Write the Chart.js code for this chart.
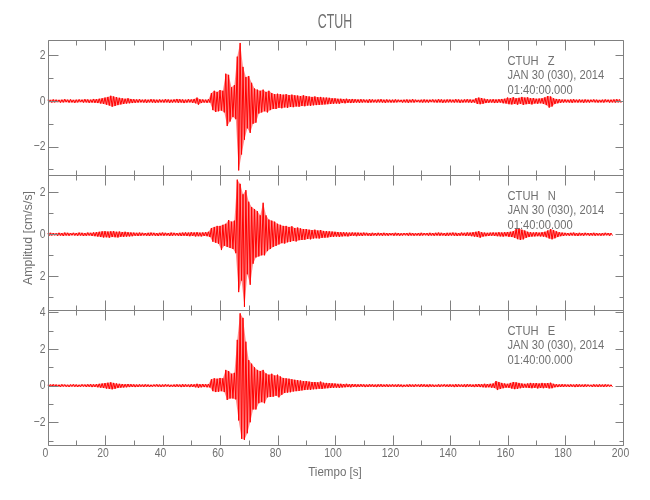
<!DOCTYPE html>
<html>
<head>
<meta charset="utf-8">
<script src="https://cdn.jsdelivr.net/npm/chart.js@4.4.0/dist/chart.umd.min.js"></script>
<style>
  html, body { margin: 0; padding: 0; background: #fff; }
  #wrap { width: 650px; height: 500px; position: relative; }
</style>
</head>
<body>
<div id="wrap"><canvas id="seis"></canvas></div>
<script>
// envelope, one pair per second: upper peak then lower peak
var zHi = [
  0.06,0.05,0.07,0.06,0.05,0.06,0.08,0.06,0.07,0.05,0.06,0.07,0.06,0.08,0.07,0.06,0.09,0.08,0.10,0.12,
  0.15,0.18,0.23,0.20,0.17,0.14,0.12,0.10,0.12,0.09,0.08,0.07,0.08,0.06,0.07,0.06,0.08,0.07,0.06,0.07,
  0.06,0.08,0.07,0.06,0.07,0.09,0.08,0.07,0.06,0.08,0.07,0.09,0.15,0.08,0.07,0.06,0.08,0.35,0.45,0.40,
  0.48,0.45,1.20,1.15,0.60,0.70,1.95,2.55,1.50,1.05,1.10,0.80,0.55,0.50,0.45,0.50,0.40,0.45,0.35,0.30,
  0.32,0.30,0.28,0.30,0.26,0.28,0.25,0.24,0.22,0.25,0.22,0.20,0.18,0.20,0.17,0.18,0.15,0.15,0.14,0.12,
  0.12,0.10,0.10,0.09,0.10,0.08,0.09,0.08,0.07,0.08,0.07,0.06,0.08,0.07,0.06,0.07,0.08,0.06,0.07,0.06,
  0.06,0.07,0.06,0.05,0.06,0.07,0.06,0.08,0.06,0.05,0.06,0.07,0.06,0.06,0.07,0.06,0.08,0.07,0.06,0.07,
  0.07,0.06,0.08,0.07,0.06,0.07,0.08,0.07,0.06,0.12,0.15,0.13,0.10,0.08,0.07,0.08,0.07,0.08,0.09,0.10,
  0.15,0.13,0.17,0.12,0.14,0.18,0.15,0.16,0.12,0.13,0.10,0.11,0.12,0.16,0.22,0.20,0.12,0.09,0.08,0.07,
  0.07,0.06,0.07,0.08,0.06,0.07,0.06,0.07,0.06,0.06,0.07,0.06,0.05,0.06,0.07,0.06,0.06,0.07,0.08,0.07
];
var zLo = [
  -0.05,-0.07,-0.06,-0.05,-0.07,-0.06,-0.05,-0.07,-0.06,-0.08,-0.06,-0.05,-0.07,-0.06,-0.08,-0.07,-0.08,-0.09,-0.11,-0.13,
  -0.16,-0.20,-0.25,-0.22,-0.18,-0.15,-0.13,-0.11,-0.10,-0.09,-0.08,-0.07,-0.06,-0.07,-0.08,-0.06,-0.07,-0.08,-0.07,-0.06,
  -0.07,-0.06,-0.08,-0.07,-0.06,-0.08,-0.07,-0.09,-0.07,-0.06,-0.08,-0.10,-0.16,-0.09,-0.07,-0.08,-0.07,-0.40,-0.48,-0.45,
  -0.42,-0.50,-1.10,-0.90,-0.70,-0.80,-3.05,-2.35,-1.70,-1.20,-1.40,-1.00,-0.95,-0.55,-0.50,-0.45,-0.50,-0.40,-0.35,-0.35,
  -0.30,-0.32,-0.28,-0.30,-0.26,-0.27,-0.24,-0.25,-0.22,-0.23,-0.20,-0.21,-0.19,-0.18,-0.17,-0.16,-0.15,-0.14,-0.13,-0.12,
  -0.11,-0.12,-0.09,-0.10,-0.08,-0.09,-0.08,-0.07,-0.08,-0.07,-0.06,-0.08,-0.07,-0.06,-0.07,-0.06,-0.07,-0.08,-0.06,-0.07,
  -0.07,-0.06,-0.05,-0.07,-0.06,-0.08,-0.06,-0.07,-0.05,-0.06,-0.07,-0.06,-0.07,-0.05,-0.06,-0.07,-0.06,-0.08,-0.07,-0.06,
  -0.06,-0.07,-0.06,-0.08,-0.07,-0.06,-0.07,-0.08,-0.07,-0.13,-0.14,-0.12,-0.09,-0.08,-0.07,-0.09,-0.08,-0.07,-0.10,-0.11,
  -0.14,-0.15,-0.13,-0.16,-0.12,-0.17,-0.14,-0.13,-0.15,-0.11,-0.12,-0.10,-0.13,-0.18,-0.29,-0.24,-0.13,-0.10,-0.08,-0.07,
  -0.06,-0.07,-0.08,-0.06,-0.07,-0.06,-0.08,-0.06,-0.07,-0.05,-0.06,-0.07,-0.06,-0.07,-0.05,-0.07,-0.06,-0.07,-0.06,-0.08
];
var nHi = [
  0.06,0.07,0.06,0.05,0.07,0.06,0.08,0.07,0.06,0.07,0.06,0.08,0.07,0.06,0.08,0.07,0.09,0.10,0.12,0.14,
  0.15,0.13,0.14,0.15,0.12,0.13,0.11,0.12,0.10,0.09,0.08,0.07,0.08,0.07,0.06,0.07,0.08,0.07,0.06,0.07,
  0.08,0.07,0.06,0.08,0.07,0.06,0.07,0.08,0.09,0.08,0.10,0.09,0.10,0.08,0.09,0.10,0.12,0.30,0.35,0.40,
  0.40,0.45,0.50,0.68,0.60,0.65,2.60,2.40,1.90,2.10,1.55,1.30,1.20,1.10,0.90,1.50,0.90,0.70,0.65,0.60,
  0.50,0.45,0.40,0.40,0.35,0.38,0.30,0.32,0.28,0.25,0.25,0.22,0.20,0.22,0.18,0.20,0.16,0.15,0.14,0.13,
  0.12,0.11,0.10,0.10,0.09,0.08,0.09,0.08,0.08,0.07,0.08,0.07,0.06,0.07,0.06,0.07,0.06,0.07,0.06,0.06,
  0.06,0.07,0.06,0.05,0.06,0.06,0.07,0.06,0.05,0.06,0.07,0.06,0.06,0.07,0.06,0.07,0.08,0.07,0.06,0.07,
  0.07,0.08,0.07,0.06,0.08,0.07,0.09,0.08,0.10,0.12,0.15,0.10,0.08,0.07,0.08,0.09,0.08,0.10,0.09,0.10,
  0.11,0.12,0.15,0.25,0.29,0.22,0.18,0.12,0.10,0.09,0.10,0.08,0.10,0.12,0.18,0.25,0.20,0.14,0.10,0.08,
  0.07,0.06,0.07,0.08,0.06,0.07,0.06,0.07,0.06,0.06,0.07,0.06,0.05,0.06,0.07,0.06,0.06
];
var nLo = [
  -0.07,-0.06,-0.05,-0.07,-0.06,-0.08,-0.06,-0.07,-0.05,-0.06,-0.07,-0.06,-0.08,-0.07,-0.06,-0.08,-0.09,-0.11,-0.13,-0.15,
  -0.14,-0.16,-0.13,-0.14,-0.15,-0.12,-0.12,-0.11,-0.10,-0.09,-0.07,-0.08,-0.07,-0.06,-0.07,-0.08,-0.06,-0.07,-0.08,-0.06,
  -0.07,-0.06,-0.08,-0.07,-0.06,-0.07,-0.08,-0.07,-0.08,-0.09,-0.08,-0.10,-0.09,-0.10,-0.08,-0.09,-0.13,-0.35,-0.40,-0.45,
  -0.75,-0.55,-0.60,-0.65,-0.70,-0.90,-2.75,-2.20,-3.45,-1.90,-2.40,-1.40,-1.10,-1.05,-1.00,-1.00,-0.80,-0.70,-0.60,-0.55,
  -0.48,-0.42,-0.44,-0.38,-0.36,-0.32,-0.34,-0.28,-0.27,-0.26,-0.22,-0.24,-0.20,-0.19,-0.20,-0.17,-0.16,-0.15,-0.13,-0.12,
  -0.11,-0.12,-0.10,-0.09,-0.10,-0.08,-0.07,-0.09,-0.07,-0.08,-0.06,-0.07,-0.08,-0.06,-0.07,-0.06,-0.07,-0.06,-0.07,-0.05,
  -0.07,-0.06,-0.07,-0.06,-0.05,-0.07,-0.06,-0.07,-0.06,-0.07,-0.06,-0.05,-0.07,-0.06,-0.07,-0.06,-0.07,-0.06,-0.08,-0.07,
  -0.06,-0.07,-0.08,-0.07,-0.06,-0.08,-0.07,-0.09,-0.11,-0.13,-0.16,-0.11,-0.09,-0.08,-0.07,-0.08,-0.09,-0.10,-0.11,-0.09,
  -0.12,-0.13,-0.17,-0.23,-0.27,-0.24,-0.17,-0.13,-0.11,-0.10,-0.09,-0.10,-0.11,-0.14,-0.20,-0.24,-0.19,-0.13,-0.09,-0.08,
  -0.06,-0.07,-0.06,-0.07,-0.08,-0.06,-0.07,-0.05,-0.07,-0.06,-0.07,-0.06,-0.07,-0.06,-0.05,-0.07,-0.06
];
var eHi = [
  0.05,0.06,0.07,0.06,0.05,0.07,0.06,0.05,0.06,0.07,0.06,0.05,0.07,0.06,0.07,0.08,0.07,0.08,0.10,0.12,
  0.14,0.16,0.18,0.15,0.12,0.10,0.09,0.08,0.09,0.08,0.07,0.06,0.07,0.06,0.07,0.06,0.05,0.06,0.07,0.06,
  0.06,0.07,0.06,0.05,0.06,0.07,0.06,0.08,0.07,0.06,0.08,0.07,0.10,0.08,0.09,0.08,0.09,0.35,0.40,0.38,
  0.42,0.40,0.86,0.80,0.65,0.70,2.50,3.95,3.70,2.40,1.40,1.20,1.00,0.86,0.80,0.86,0.67,0.60,0.65,0.55,
  0.60,0.50,0.42,0.40,0.38,0.35,0.32,0.30,0.28,0.25,0.25,0.22,0.20,0.20,0.18,0.22,0.16,0.15,0.14,0.13,
  0.12,0.10,0.10,0.09,0.10,0.08,0.09,0.08,0.07,0.08,0.07,0.06,0.08,0.07,0.06,0.07,0.08,0.06,0.07,0.06,
  0.07,0.06,0.07,0.06,0.05,0.06,0.07,0.06,0.07,0.06,0.08,0.07,0.06,0.07,0.06,0.05,0.07,0.06,0.07,0.06,
  0.07,0.06,0.08,0.07,0.06,0.07,0.08,0.07,0.06,0.08,0.09,0.08,0.10,0.09,0.10,0.12,0.25,0.20,0.15,0.12,
  0.10,0.15,0.20,0.18,0.15,0.12,0.10,0.12,0.15,0.13,0.14,0.12,0.15,0.13,0.14,0.16,0.10,0.08,0.07,0.08,
  0.07,0.06,0.07,0.06,0.08,0.07,0.06,0.07,0.06,0.05,0.07,0.06,0.07,0.06,0.07,0.06,0.05
];
var eLo = [
  -0.06,-0.05,-0.07,-0.06,-0.07,-0.05,-0.06,-0.07,-0.05,-0.06,-0.07,-0.06,-0.05,-0.07,-0.06,-0.08,-0.07,-0.09,-0.11,-0.13,
  -0.16,-0.18,-0.20,-0.17,-0.13,-0.11,-0.10,-0.09,-0.08,-0.07,-0.08,-0.07,-0.06,-0.07,-0.06,-0.07,-0.06,-0.05,-0.06,-0.07,
  -0.06,-0.05,-0.07,-0.06,-0.07,-0.06,-0.08,-0.07,-0.06,-0.08,-0.07,-0.09,-0.11,-0.09,-0.08,-0.09,-0.10,-0.30,-0.35,-0.33,
  -0.30,-0.35,-0.78,-0.70,-0.70,-0.75,-1.90,-2.90,-2.96,-2.60,-2.00,-1.30,-1.30,-0.96,-0.90,-0.96,-0.64,-0.62,-0.60,-0.55,
  -0.64,-0.50,-0.40,-0.38,-0.36,-0.32,-0.30,-0.29,-0.26,-0.24,-0.22,-0.23,-0.20,-0.19,-0.17,-0.18,-0.15,-0.14,-0.13,-0.12,
  -0.11,-0.12,-0.10,-0.09,-0.08,-0.09,-0.07,-0.08,-0.07,-0.06,-0.08,-0.07,-0.06,-0.07,-0.08,-0.06,-0.07,-0.06,-0.07,-0.06,
  -0.06,-0.07,-0.06,-0.08,-0.06,-0.07,-0.06,-0.07,-0.05,-0.07,-0.06,-0.07,-0.08,-0.06,-0.07,-0.06,-0.07,-0.05,-0.06,-0.07,
  -0.06,-0.08,-0.07,-0.06,-0.07,-0.08,-0.06,-0.07,-0.08,-0.07,-0.08,-0.09,-0.10,-0.09,-0.11,-0.13,-0.24,-0.18,-0.14,-0.11,
  -0.12,-0.16,-0.19,-0.17,-0.14,-0.12,-0.11,-0.13,-0.14,-0.12,-0.15,-0.13,-0.14,-0.12,-0.15,-0.14,-0.09,-0.08,-0.07,-0.07,
  -0.06,-0.07,-0.06,-0.08,-0.07,-0.06,-0.07,-0.06,-0.05,-0.07,-0.06,-0.07,-0.06,-0.07,-0.06,-0.05,-0.07
];

var components = ['Z', 'N', 'E'];
var yMin = [-3.25, -3.6, -3.24];
var yMax = [2.68, 2.82, 4.13];
var xTicks = [0, 20, 40, 60, 80, 100, 120, 140, 160, 180, 200];
var station = 'CTUH';
var dateText = 'JAN 30 (030), 2014';
var timeText = '01:40:00.000';
var xTitle = 'Tiempo [s]';
var yTitle = 'Amplitud [cm/s/s]';

var fontFam = "'Liberation Sans', Arial, sans-serif";
var textColor = '#707070';
var lineColor = '#808080';
var traceColor = '#ff0000';
var bandColor = 'rgba(255, 0, 0, 0.45)';

function trace(hi, lo) {
  var pts = [];
  for (var i = 0; i < hi.length; i++) {
    pts.push({ x: i, y: hi[i] });
    pts.push({ x: i + 0.5, y: lo[i] });
  }
  return pts;
}
function edge(vals, shift) {
  return vals.map(function (v, i) { return { x: i + shift, y: v }; });
}

var axisIds = ['yZ', 'yN', 'yE'];
var his = [zHi, nHi, eHi];
var los = [zLo, nLo, eLo];

// narrow text, the original uses a thin condensed plotter font
function say(ctx, txt, x, y, size, align, squeeze) {
  ctx.save();
  ctx.font = size + 'px ' + fontFam;
  ctx.textAlign = align;
  ctx.textBaseline = 'middle';
  ctx.translate(x, y);
  ctx.scale(squeeze, 1);
  ctx.fillText(txt, 0, 0);
  ctx.restore();
}

function yScale(k, weight) {
  return {
    type: 'linear',
    position: 'left',
    stack: 'seis',
    stackWeight: 1,
    weight: weight,
    min: yMin[k],
    max: yMax[k],
    grid: { display: false },
    border: { display: false },
    ticks: { display: false, stepSize: 1 },
    afterFit: function (s) { s.width = 47.5; }
  };
}

var framePlugin = {
  id: 'frames',
  afterDatasetsDraw: function (chart) {
    var ctx = chart.ctx;
    var xs = chart.scales.x;
    ctx.save();
    ctx.strokeStyle = lineColor;
    ctx.fillStyle = textColor;
    ctx.lineWidth = 1;
    var l = Math.round(xs.left) + 0.5, r = Math.round(xs.right) + 0.5;
    axisIds.forEach(function (id, k) {
      var ys = chart.scales[id];
      var top = Math.round(ys.top) + 0.5, bot = Math.round(ys.bottom) + 0.5;
      ctx.beginPath();
      ctx.rect(l, top, r - l, bot - top);
      for (var t = 0; t <= 200; t += 10) {
        var px = Math.round(xs.getPixelForValue(t)) + 0.5;
        var len = t % 20 === 0 ? 10 : 5;
        ctx.moveTo(px, top); ctx.lineTo(px, top + len);
        ctx.moveTo(px, bot); ctx.lineTo(px, bot - len);
      }
      for (var v = Math.ceil(ys.min); v <= ys.max; v++) {
        var py = Math.round(ys.getPixelForValue(v)) + 0.5;
        var major = v % 2 === 0;
        ctx.moveTo(l, py); ctx.lineTo(l + (major ? 10 : 5), py);
        ctx.moveTo(r, py); ctx.lineTo(r - (major ? 8 : 4), py);
        if (major) {
          // the N panel prints its lower label without sign in the original
          var lab = v < 0 && k !== 1 ? '\u2212' + Math.abs(v) : '' + Math.abs(v);
          say(ctx, lab, xs.left - 2, ys.getPixelForValue(v), 13, 'right', 0.8);
        }
      }
      ctx.stroke();

      var tx = xs.getPixelForValue(160);
      say(ctx, station + '   ' + components[k], tx, ys.top + 21.2, 12, 'left', 0.93);
      say(ctx, dateText, tx, ys.top + 35.2, 12, 'left', 0.93);
      say(ctx, timeText, tx, ys.top + 50.2, 12, 'left', 0.93);
    });

    var yb = chart.scales.yE.bottom;
    xTicks.forEach(function (t) {
      say(ctx, '' + t, xs.getPixelForValue(t) - 2, yb + 8.5, 13, 'center', 0.8);
    });
    var mid = (xs.left + xs.right) / 2;
    say(ctx, station, mid, 22, 20, 'center', 0.62);
    say(ctx, xTitle, mid, yb + 27, 13, 'center', 0.89);
    ctx.translate(28, 238);
    ctx.rotate(-Math.PI / 2);
    say(ctx, yTitle, 0, 0, 13, 'center', 0.95);
    ctx.restore();
  }
};

var datasets = [];
axisIds.forEach(function (id, k) {
  // pale band between the upper and lower peaks
  datasets.push({
    data: edge(his[k], 0), yAxisID: id, borderWidth: 0, pointRadius: 0,
    backgroundColor: bandColor, fill: '+1', tension: 0
  });
  datasets.push({
    data: edge(los[k], 0.5), yAxisID: id, borderWidth: 0, pointRadius: 0,
    backgroundColor: bandColor, fill: false, tension: 0
  });
  datasets.push({
    label: components[k], data: trace(his[k], los[k]), yAxisID: id,
    borderColor: traceColor, borderWidth: 1, pointRadius: 0, tension: 0, fill: false
  });
});

new Chart(document.getElementById('seis'), {
  type: 'line',
  data: { datasets: datasets },
  options: {
    responsive: true,
    maintainAspectRatio: false,
    animation: false,
    layout: { padding: { left: 0, right: 27.5, top: 40, bottom: 0 } },
    plugins: { legend: { display: false }, tooltip: { enabled: false } },
    scales: {
      x: {
        type: 'linear',
        min: 0,
        max: 200,
        grid: { display: false },
        border: { display: false },
        ticks: { display: false, stepSize: 10 },
        afterFit: function (s) { s.height = 55; }
      },
      yE: yScale(2, 1),
      yN: yScale(1, 2),
      yZ: yScale(0, 3)
    }
  },
  plugins: [framePlugin]
});
</script>
</body>
</html>
